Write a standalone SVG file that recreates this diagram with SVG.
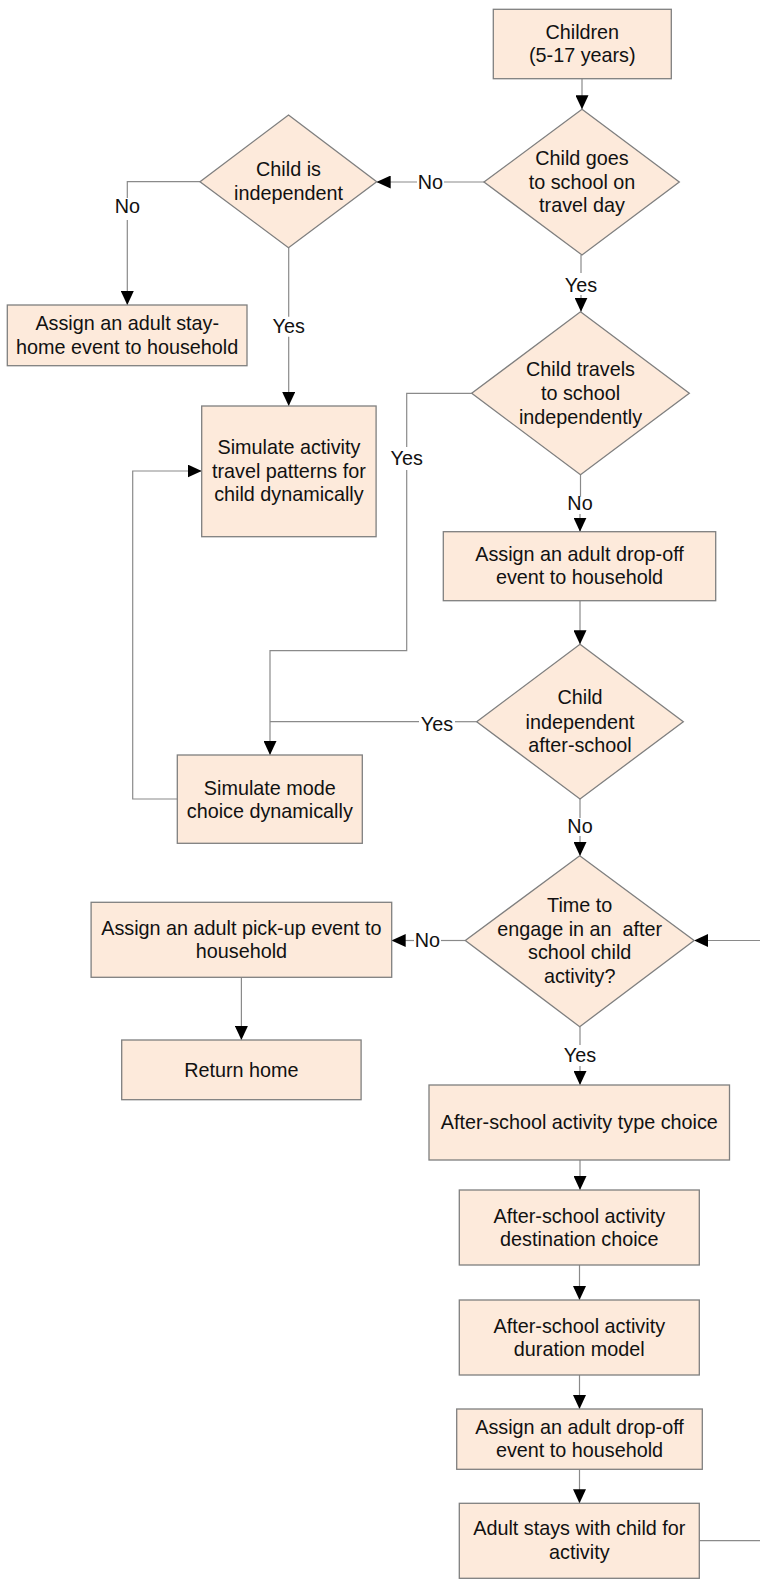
<svg xmlns="http://www.w3.org/2000/svg" width="760" height="1579" viewBox="0 0 760 1579">
<style>
.n{fill:#fdeadb;stroke:#7f7f7f;stroke-width:1.3}
.t{font-family:"Liberation Sans",Arial,sans-serif;font-size:19.8px;fill:#111;text-anchor:middle}
.c{fill:none;stroke:#8a8a8a;stroke-width:1.2}
</style>
<defs>
<marker id="ah" markerUnits="userSpaceOnUse" markerWidth="14" markerHeight="13" refX="14" refY="6.5" orient="auto">
<path d="M0,0 L14,6.5 L0,13 z" fill="#000"/>
</marker>
</defs>
<rect width="760" height="1579" fill="#fff"/>
<g id="connectors">
<path class="c" d="M582,78.7 V109.3" marker-end="url(#ah)"/>
<path class="c" d="M484,182 H444"/>
<path class="c" d="M417,182 H376.7" marker-end="url(#ah)"/>
<path class="c" d="M581,255 V273"/>
<path class="c" d="M581,295 V311.7" marker-end="url(#ah)"/>
<path class="c" d="M200,181.7 H127.3 V198"/>
<path class="c" d="M127.3,220 V305" marker-end="url(#ah)"/>
<path class="c" d="M288.7,247.7 V316.7"/>
<path class="c" d="M288.7,336.7 V406" marker-end="url(#ah)"/>
<path class="c" d="M471.7,393.3 H406.7 V447"/>
<path class="c" d="M406.7,470 V650.7 H270 V755" marker-end="url(#ah)"/>
<path class="c" d="M580.5,474.7 V496.7"/>
<path class="c" d="M580,514 V531.7" marker-end="url(#ah)"/>
<path class="c" d="M580,600.7 V644.3" marker-end="url(#ah)"/>
<path class="c" d="M476.7,721.7 H455"/>
<path class="c" d="M419,721.7 H270"/>
<path class="c" d="M580,799 V818"/>
<path class="c" d="M580,836 V856" marker-end="url(#ah)"/>
<path class="c" d="M177.3,799 H132.7 V471 H201.7" marker-end="url(#ah)"/>
<path class="c" d="M465.3,940.5 H441"/>
<path class="c" d="M414,940.5 H391.7" marker-end="url(#ah)"/>
<path class="c" d="M241.4,977.3 V1040" marker-end="url(#ah)"/>
<path class="c" d="M580,1026.7 V1045"/>
<path class="c" d="M580,1066 V1085" marker-end="url(#ah)"/>
<path class="c" d="M580,1160 V1190" marker-end="url(#ah)"/>
<path class="c" d="M579.5,1265 V1300" marker-end="url(#ah)"/>
<path class="c" d="M579.5,1375 V1409" marker-end="url(#ah)"/>
<path class="c" d="M579.5,1469.3 V1503.3" marker-end="url(#ah)"/>
<path class="c" d="M699.3,1540.7 H775 V940.5 H694.1" marker-end="url(#ah)"/>
<text class="t" x="430.3" y="188.5">No</text>
<text class="t" x="581" y="291.7">Yes</text>
<text class="t" x="127.3" y="213.3">No</text>
<text class="t" x="288.7" y="333.3">Yes</text>
<text class="t" x="406.7" y="465">Yes</text>
<text class="t" x="580" y="510">No</text>
<text class="t" x="437" y="730.8">Yes</text>
<text class="t" x="580" y="833.3">No</text>
<text class="t" x="427.3" y="946.7">No</text>
<text class="t" x="580" y="1061.7">Yes</text>
</g>
<g id="children">
<rect class="n" x="493.3" y="9.3" width="178" height="69.4"/>
<text class="t" x="582.3" y="39">Children</text>
<text class="t" x="582.3" y="62">(5-17 years)</text>
</g>
<g id="goes-to-school">
<path class="n" d="M582,109.3 L679.3,182 L582,255 L484,182 z"/>
<text class="t" x="582" y="165.3">Child goes</text>
<text class="t" x="582" y="189">to school on</text>
<text class="t" x="582" y="212">travel day</text>
</g>
<g id="child-independent">
<path class="n" d="M288.5,115 L376.7,181.7 L288.5,247.7 L200,181.7 z"/>
<text class="t" x="288.5" y="176.3">Child is</text>
<text class="t" x="288.5" y="199.7">independent</text>
</g>
<g id="stay-home">
<rect class="n" x="7.3" y="305" width="239.7" height="60.7"/>
<text class="t" x="127.2" y="330.3">Assign an adult stay-</text>
<text class="t" x="127.2" y="353.7">home event to household</text>
</g>
<g id="travels-independently">
<path class="n" d="M580.5,311.7 L689.3,393.3 L580.5,474.7 L471.7,393.3 z"/>
<text class="t" x="580.5" y="376">Child travels</text>
<text class="t" x="580.5" y="400.3">to school</text>
<text class="t" x="580.5" y="423.7">independently</text>
</g>
<g id="simulate-activity">
<rect class="n" x="201.7" y="406" width="174.4" height="130.7"/>
<text class="t" x="288.9" y="454.3">Simulate activity</text>
<text class="t" x="288.9" y="477.7">travel patterns for</text>
<text class="t" x="288.9" y="501.3">child dynamically</text>
</g>
<g id="drop-off-1">
<rect class="n" x="443.3" y="531.7" width="272.4" height="69"/>
<text class="t" x="579.5" y="561">Assign an adult drop-off</text>
<text class="t" x="579.5" y="584.3">event to household</text>
</g>
<g id="independent-after-school">
<path class="n" d="M580,644.3 L683.3,721.7 L580,799 L476.7,721.7 z"/>
<text class="t" x="580" y="704.3">Child</text>
<text class="t" x="580" y="728.7">independent</text>
<text class="t" x="580" y="752">after-school</text>
</g>
<g id="mode-choice">
<rect class="n" x="177.3" y="755" width="185" height="88.3"/>
<text class="t" x="269.8" y="794.7">Simulate mode</text>
<text class="t" x="269.8" y="817.7">choice dynamically</text>
</g>
<g id="time-to-engage">
<path class="n" d="M579.7,855.7 L694.1,940.5 L579.7,1026.7 L465.3,940.5 z"/>
<text class="t" x="579.7" y="912" xml:space="preserve">Time to</text>
<text class="t" x="579.7" y="936" xml:space="preserve">engage in an  after</text>
<text class="t" x="579.7" y="959.3">school child</text>
<text class="t" x="579.7" y="983">activity?</text>
</g>
<g id="pick-up">
<rect class="n" x="91.1" y="902.3" width="300.6" height="75"/>
<text class="t" x="241.4" y="935">Assign an adult pick-up event to</text>
<text class="t" x="241.4" y="958">household</text>
</g>
<g id="return-home">
<rect class="n" x="121.7" y="1040" width="239.4" height="59.7"/>
<text class="t" x="241.4" y="1077">Return home</text>
</g>
<g id="activity-type">
<rect class="n" x="429" y="1085" width="300.5" height="75"/>
<text class="t" x="579.3" y="1128.7">After-school activity type choice</text>
</g>
<g id="destination">
<rect class="n" x="459.3" y="1190" width="240" height="75"/>
<text class="t" x="579.3" y="1222.7">After-school activity</text>
<text class="t" x="579.3" y="1246">destination choice</text>
</g>
<g id="duration">
<rect class="n" x="459.3" y="1300" width="240" height="75"/>
<text class="t" x="579.3" y="1333">After-school activity</text>
<text class="t" x="579.3" y="1356">duration model</text>
</g>
<g id="drop-off-2">
<rect class="n" x="456.7" y="1409" width="245.6" height="60.3"/>
<text class="t" x="579.5" y="1433.7">Assign an adult drop-off</text>
<text class="t" x="579.5" y="1457">event to household</text>
</g>
<g id="adult-stays">
<rect class="n" x="459.3" y="1503.3" width="240" height="75"/>
<text class="t" x="579.3" y="1535.3">Adult stays with child for</text>
<text class="t" x="579.3" y="1558.7">activity</text>
</g>
</svg>
